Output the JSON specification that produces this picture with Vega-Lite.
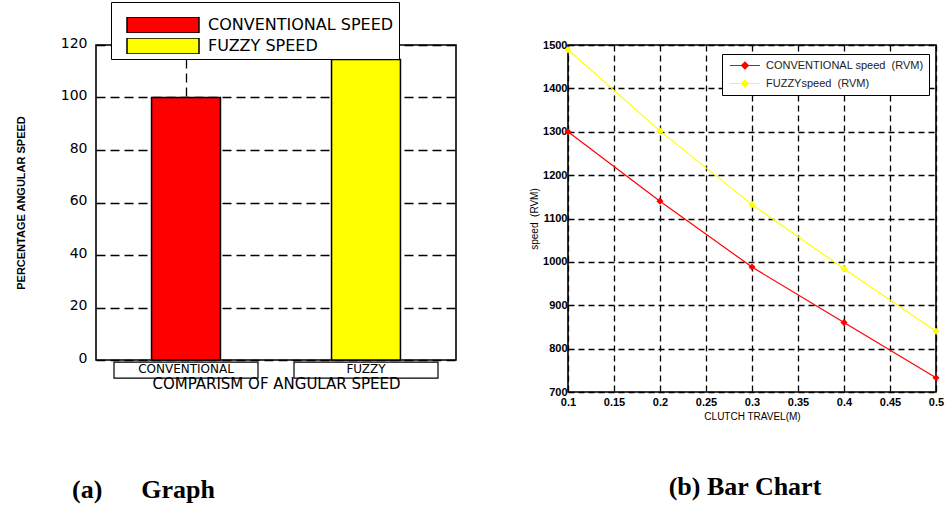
{
  "$schema": "https://vega.github.io/schema/vega-lite/v6.json",
  "background": "white",
  "padding": {"left": 14, "top": 0, "right": 5, "bottom": 2},
  "bounds": "flush",
  "spacing": 112,
  "resolve": {
    "scale": {"x": "independent", "y": "independent", "color": "independent"},
    "axis": {"x": "independent", "y": "independent"},
    "legend": {"color": "independent"}
  },
  "config": {
    "view": {"stroke": "black", "strokeWidth": 1.6},
    "axis": {"labelOverlap": false, "labelColor": "black", "titleColor": "black", "gridColor": "black", "gridOpacity": 1}
  },
  "hconcat": [
    {
      "width": 360,
      "height": 315,
      "title": {
        "text": "(a)\u00a0\u00a0\u00a0\u00a0\u00a0\u00a0Graph",
        "orient": "bottom",
        "anchor": "start",
        "frame": "group",
        "dx": -24,
        "offset": 86,
        "font": "Liberation Serif",
        "fontSize": 26,
        "fontWeight": "bold",
        "color": "black"
      },
      "data": {
        "values": [
          {"category": "CONVENTIONAL", "series": "CONVENTIONAL SPEED", "value": 100},
          {"category": "FUZZY", "series": "FUZZY SPEED", "value": 114.5}
        ]
      },
      "layer": [
        {
          "mark": {"type": "bar", "width": {"band": 0.383}, "stroke": "black", "strokeWidth": 1.5},
          "encoding": {
            "x": {
              "field": "category",
              "type": "nominal",
              "sort": null,
              "scale": {"paddingInner": 0, "paddingOuter": 0},
              "axis": {
                "title": "COMPARISM OF ANGULAR SPEED",
                "labelAngle": 0,
                "bandPosition": 0.5,
                "grid": true,
                "gridDash": [9, 5],
                "gridWidth": 1.3,
                "ticks": false,
                "domain": false,
                "labelFont": "DejaVu Sans",
                "labelFontSize": 12,
                "labelPadding": 3,
                "titleFont": "DejaVu Sans",
                "titleFontSize": 15,
                "titleFontWeight": "normal",
                "titlePadding": 2
              }
            },
            "y": {
              "field": "value",
              "type": "quantitative",
              "scale": {"domain": [0, 120], "nice": false},
              "axis": {
                "title": "PERCENTAGE ANGULAR SPEED",
                "values": [0, 20, 40, 60, 80, 100, 120],
                "grid": true,
                "gridDash": [9, 5],
                "gridWidth": 1.3,
                "ticks": false,
                "domain": false,
                "labelFont": "DejaVu Sans",
                "labelFontSize": 14,
                "labelPadding": 9,
                "labelBaseline": "alphabetic",
                "labelOffset": 2,
                "titleFont": "Liberation Sans",
                "titleFontSize": 11,
                "titleFontWeight": "bold",
                "titlePadding": 34
              }
            },
            "color": {
              "field": "series",
              "type": "nominal",
              "scale": {"domain": ["CONVENTIONAL SPEED", "FUZZY SPEED"], "range": ["#ff0000", "#ffff00"]},
              "legend": {
                "orient": "none",
                "legendX": 15,
                "legendY": -43,
                "title": " ",
                "titleFontSize": 6,
                "titlePadding": 4,
                "padding": 5,
                "symbolType": "M-1,-0.222H1V0.222H-1Z",
                "symbolSize": 5184,
                "clipHeight": 16,
                "symbolStrokeColor": "black",
                "symbolStrokeWidth": 1.5,
                "symbolOffset": 10,
                "labelOffset": 8,
                "labelFont": "DejaVu Sans",
                "labelFontSize": 16,
                "labelColor": "black",
                "labelLimit": 400,
                "rowPadding": 5,
                "strokeColor": "black",
                "fillColor": "white",
                "cornerRadius": 0
              }
            }
          }
        },
        {
          "mark": {"type": "rect", "filled": false, "stroke": "black", "strokeWidth": 1.2, "width": {"band": 0.8}},
          "encoding": {
            "x": {"field": "category", "type": "nominal", "sort": null},
            "y": {"datum": -0.8},
            "y2": {"datum": -6.9}
          }
        }
      ]
    },
    {
      "width": 368,
      "height": 347,
      "title": {
        "text": "(b) Bar Chart",
        "orient": "bottom",
        "anchor": "middle",
        "frame": "group",
        "dx": -7,
        "offset": 53,
        "font": "Liberation Serif",
        "fontSize": 26,
        "fontWeight": "bold",
        "color": "black"
      },
      "data": {
        "values": [
          {"travel": 0.1, "speed": 1300, "series": "CONVENTIONAL speed\u00a0\u00a0(RVM)"},
          {"travel": 0.2, "speed": 1140, "series": "CONVENTIONAL speed\u00a0\u00a0(RVM)"},
          {"travel": 0.3, "speed": 988, "series": "CONVENTIONAL speed\u00a0\u00a0(RVM)"},
          {"travel": 0.4, "speed": 860, "series": "CONVENTIONAL speed\u00a0\u00a0(RVM)"},
          {"travel": 0.5, "speed": 733, "series": "CONVENTIONAL speed\u00a0\u00a0(RVM)"},
          {"travel": 0.1, "speed": 1489, "series": "FUZZYspeed\u00a0\u00a0(RVM)"},
          {"travel": 0.2, "speed": 1302, "series": "FUZZYspeed\u00a0\u00a0(RVM)"},
          {"travel": 0.3, "speed": 1132, "series": "FUZZYspeed\u00a0\u00a0(RVM)"},
          {"travel": 0.4, "speed": 984, "series": "FUZZYspeed\u00a0\u00a0(RVM)"},
          {"travel": 0.5, "speed": 840, "series": "FUZZYspeed\u00a0\u00a0(RVM)"}
        ]
      },
      "encoding": {
        "x": {
          "field": "travel",
          "type": "quantitative",
          "scale": {"domain": [0.1, 0.5], "nice": false, "zero": false},
          "axis": {
            "title": "CLUTCH TRAVEL(M)",
            "values": [0.1, 0.15, 0.2, 0.25, 0.3, 0.35, 0.4, 0.45, 0.5],
            "format": ".2~f",
            "labelFlush": false,
            "grid": true,
            "gridDash": [6, 4],
            "gridWidth": 1.3,
            "ticks": false,
            "domain": false,
            "labelFont": "Liberation Sans",
            "labelFontSize": 11,
            "labelFontWeight": "bold",
            "labelPadding": 4,
            "titleFont": "Liberation Sans",
            "titleFontSize": 10,
            "titleFontWeight": "normal",
            "titlePadding": 4
          }
        },
        "y": {
          "field": "speed",
          "type": "quantitative",
          "scale": {"domain": [700, 1500], "nice": false, "zero": false},
          "axis": {
            "title": "speed\u00a0\u00a0(RVM)",
            "values": [700, 800, 900, 1000, 1100, 1200, 1300, 1400, 1500],
            "format": "d",
            "grid": true,
            "gridDash": [6, 4],
            "gridWidth": 1.3,
            "ticks": false,
            "domain": false,
            "labelFont": "Liberation Sans",
            "labelFontSize": 11,
            "labelFontWeight": "bold",
            "labelPadding": 1,
            "titleFont": "Liberation Sans",
            "titleFontSize": 10,
            "titleFontWeight": "normal",
            "titlePadding": 3
          }
        },
        "color": {
          "field": "series",
          "type": "nominal",
          "scale": {"domain": ["CONVENTIONAL speed\u00a0\u00a0(RVM)", "FUZZYspeed\u00a0\u00a0(RVM)"], "range": ["#ff0000", "#ffff00"]}
        }
      },
      "layer": [
        {
          "mark": {"type": "line", "strokeWidth": 1.2},
          "encoding": {
            "color": {
              "field": "series",
              "type": "nominal",
              "legend": {
                "orient": "none",
                "legendX": 154,
                "legendY": 9,
                "title": null,
                "padding": 5,
                "symbolType": "M-1,0H1M0,-0.23L0.23,0L0,0.23L-0.23,0Z",
                "symbolSize": 900,
                "clipHeight": 13,
                "symbolStrokeWidth": 1.2,
                "symbolOffset": 2,
                "labelOffset": 5,
                "labelFont": "Liberation Sans",
                "labelFontSize": 11,
                "labelColor": "#222222",
                "labelLimit": 300,
                "rowPadding": 5,
                "strokeColor": "black",
                "fillColor": "white",
                "cornerRadius": 0,
                "encode": {
                  "symbols": {
                    "update": {
                      "fill": {"signal": "datum.index === 0 ? '#ff0000' : '#ffff00'"},
                      "stroke": {"signal": "datum.index === 0 ? '#ff0000' : '#ffff00'"}
                    }
                  }
                }
              }
            }
          }
        },
        {
          "mark": {"type": "point", "shape": "diamond", "filled": true, "size": 50, "opacity": 1},
          "encoding": {
            "color": {"field": "series", "type": "nominal", "legend": null}
          }
        }
      ]
    }
  ]
}
